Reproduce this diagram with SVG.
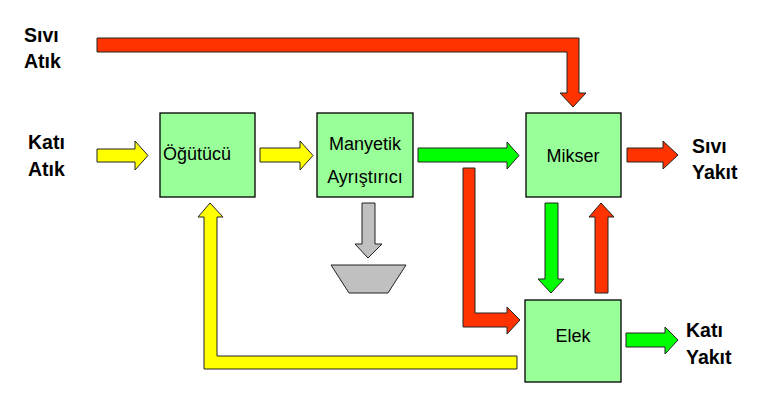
<svg xmlns="http://www.w3.org/2000/svg" width="763" height="407" viewBox="0 0 763 407">
<style>
.box{fill:#99FF99;stroke:#000;stroke-width:1.3}
.arr{stroke:#222;stroke-width:1;stroke-linejoin:miter}
.red{fill:#FF3300}
.yel{fill:#FFFF00}
.grn{fill:#00FF00}
.gry{fill:#C0C0C0}
.lbl{font-family:"Liberation Sans",Arial,sans-serif;font-size:18px;fill:#000}
.side{font-family:"Liberation Sans",Arial,sans-serif;font-size:19.5px;font-weight:bold;fill:#000}
</style>
<rect width="763" height="407" fill="#fff"/>
<g id="connectors">
<polygon class="arr red" points="97,38 579,38 579,93 586,93 573,107 560,93 567,93 567,52 97,52"/>
<polygon class="arr yel" points="97,149 135,149 135,141 148,155.5 135,170 135,162 97,162"/>
<polygon class="arr yel" points="260,148 300,148 300,141 313,155.5 300,170 300,162 260,162"/>
<polygon class="arr grn" points="418,148 507,148 507,142 519,155.5 507,169 507,162 418,162"/>
<polygon class="arr red" points="627,148 663,148 663,141 678,155 663,169 663,162 627,162"/>
<polygon class="arr red" points="463,168 475,168 475,313 507,313 507,307 520,320 507,334 507,327 463,327"/>
<polygon class="arr yel" points="517,356 517,369 204,369 204,217 198,217 210,203 223,217 217,217 217,356"/>
<polygon class="arr gry" points="362,203 375,203 375,244 382,244 368,258 355,244 362,244"/>
<polygon class="arr grn" points="545,203 558,203 558,279 564,279 551,293 538,279 545,279"/>
<polygon class="arr red" points="595,293 608,293 608,217 614,217 601,203 589,217 595,217"/>
<polygon class="arr grn" points="626,333 665,333 665,327 678,340 665,354 665,347 626,347"/>
</g>
<g id="bin">
<polygon class="arr gry" points="331,265 406,265 388,293 349,293"/>
</g>
<g id="sivi-atik">
<text class="side" x="24" y="42">Sıvı</text>
<text class="side" x="24" y="68">Atık</text>
</g>
<g id="kati-atik">
<text class="side" x="28" y="149">Katı</text>
<text class="side" x="28" y="176">Atık</text>
</g>
<g id="ogutucu">
<rect class="box" x="160" y="113" width="95" height="84"/>
<text class="lbl" x="163" y="160">Öğütücü</text>
</g>
<g id="manyetik">
<rect class="box" x="317" y="113" width="96" height="84"/>
<text class="lbl" x="365" y="150" text-anchor="middle">Manyetik</text>
<text class="lbl" x="365" y="183" text-anchor="middle">Ayrıştırıcı</text>
</g>
<g id="mikser">
<rect class="box" x="526" y="113" width="95" height="84"/>
<text class="lbl" x="573" y="162" text-anchor="middle">Mikser</text>
</g>
<g id="elek">
<rect class="box" x="525" y="300" width="96" height="82"/>
<text class="lbl" x="573" y="342" text-anchor="middle">Elek</text>
</g>
<g id="sivi-yakit">
<text class="side" x="692" y="153">Sıvı</text>
<text class="side" x="692" y="179">Yakıt</text>
</g>
<g id="kati-yakit">
<text class="side" x="686" y="337">Katı</text>
<text class="side" x="686" y="364">Yakıt</text>
</g>
</svg>
